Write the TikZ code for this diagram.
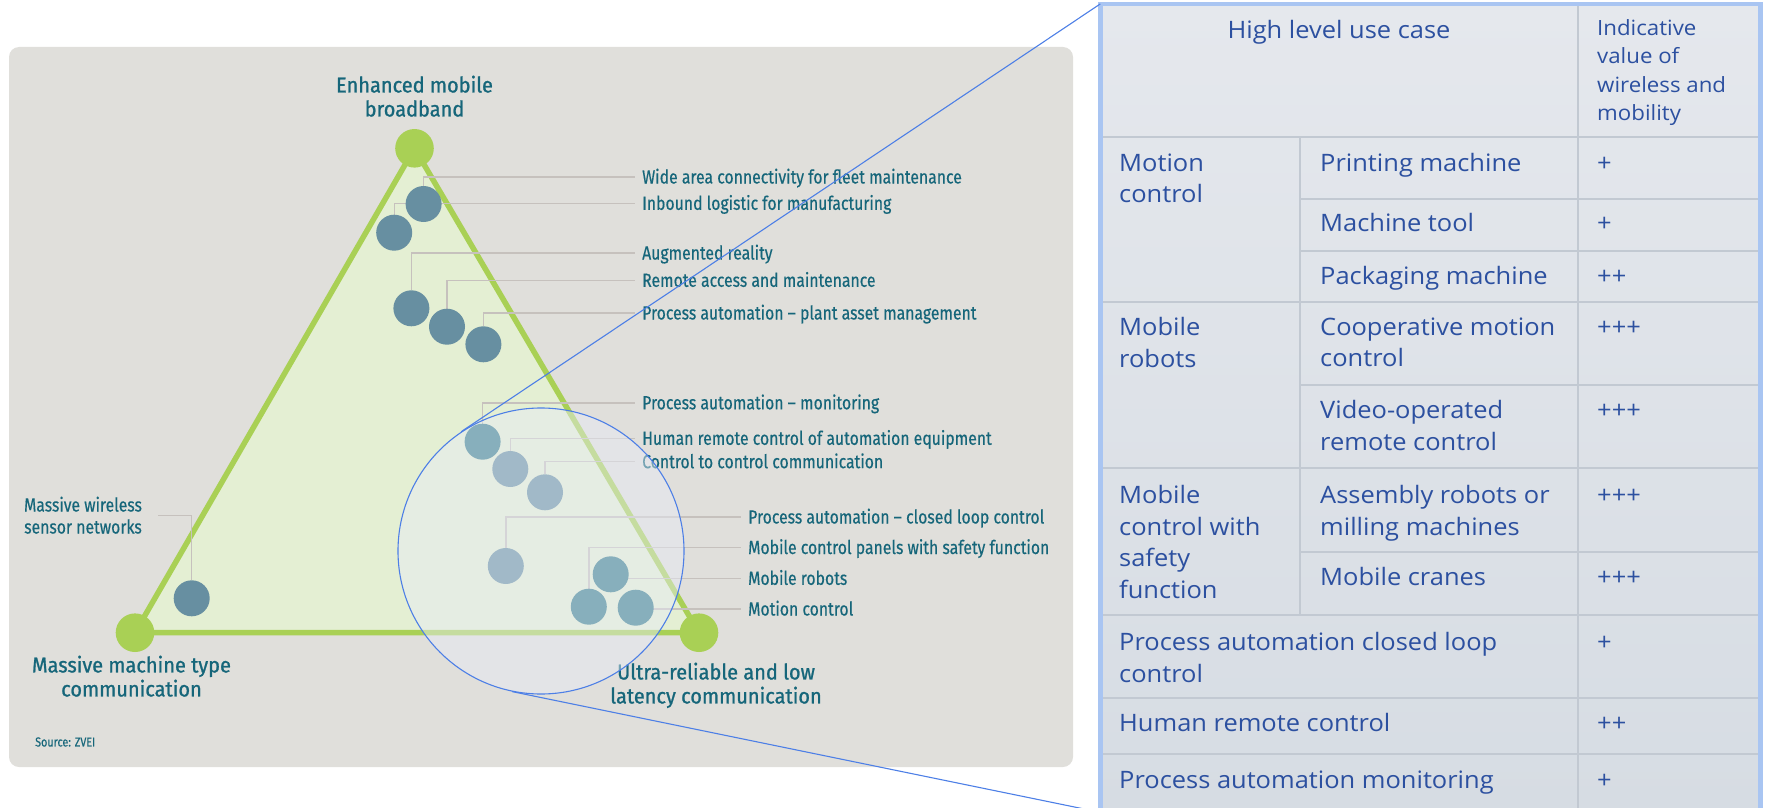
\documentclass[tikz,border=0pt]{standalone}
\usepackage{fontspec}
\usetikzlibrary{calc}
\newfontfamily\lblfont{Fira Sans}[FakeStretch=0.83,FakeBold=0.4]
\newfontfamily\headfont{Fira Sans}[FakeStretch=0.93,FakeBold=1]
\newfontfamily\tblfont{Open Sans}[FakeStretch=1.06]
\definecolor{panelgray}{HTML}{E0DFDB}
\definecolor{trifill}{HTML}{E4EFD3}
\definecolor{trigreen}{HTML}{A9D055}
\definecolor{ucdark}{HTML}{678FA1}
\definecolor{uclight}{HTML}{87AFBC}
\definecolor{lbltext}{HTML}{16667A}
\definecolor{leadgray}{HTML}{C6C1BD}
\definecolor{lensblue}{HTML}{4D7FE6}
\definecolor{lensfill}{HTML}{E7EBF7}
\definecolor{tbltop}{HTML}{E5E8ED}
\definecolor{tblbot}{HTML}{D6DCE3}
\definecolor{tblrule}{HTML}{C2C9D2}
\definecolor{tblborder}{HTML}{A9C5F2}
\definecolor{tbltext}{HTML}{2C50A0}
\pgfdeclarelayer{back}
\pgfdeclarelayer{front}
\pgfsetlayers{back,main,front}

\begin{document}
\begin{tikzpicture}[x=1pt,y=-1pt,
  vertex/.style={circle,fill=trigreen,minimum size=38.6pt,inner sep=0pt},
  uc/.style={circle,fill=ucdark,minimum size=36pt,inner sep=0pt},
  uclens/.style={uc,fill=uclight},
  leader/.style={draw=leadgray,line width=1.4pt},
  lbl/.style={anchor=west,inner xsep=7pt,inner ysep=0pt,text height=13pt,text depth=0pt,
    font=\lblfont\fontsize{19}{22}\selectfont,text=lbltext},
  head/.style={anchor=north,align=center,inner sep=0pt,
    font=\headfont\fontsize{21.5}{24}\selectfont,text=lbltext},
  lens/.style={circle,minimum size=286pt,inner sep=0pt,fill=lensfill,fill opacity=0.46,
    draw=lensblue,line width=1.1pt},
  zoomline/.style={draw=lensblue,line width=1.1pt},
  tblbox/.style={rectangle,inner sep=0pt,top color=tbltop,bottom color=tblbot},
  rule/.style={draw=tblrule,line width=2pt},
  cellm/.style={anchor=north west,align=left,inner sep=0pt,
    font=\tblfont\fontsize{24}{31.5}\selectfont,text=tbltext},
  cellone/.style={anchor=west,inner sep=0pt,text height=17pt,text depth=0pt,
    font=\tblfont\fontsize{24}{31.5}\selectfont,text=tbltext}]
  \useasboundingbox (0,0) rectangle (1765,808);
  % Left-hand side: the triangle of 5G service types
  \begin{pgfonlayer}{back}
    \fill[panelgray,rounded corners=10pt] (9,47) rectangle (1073,767);
    \coordinate (T) at (414.5,148.3);
    \coordinate (L) at (135,632.7);
    \coordinate (R) at (699,632.7);
    \filldraw[fill=trifill,draw=trigreen,line width=5.5pt,line join=round] (T) -- (L) -- (R) -- cycle;
  \end{pgfonlayer}
  \node[vertex] (embb)  at (T) {};
  \node[vertex] (mmtc)  at (L) {};
  \node[vertex] (urllc) at (R) {};
  \node[head] (lembb)  at (414.5,75.5) {Enhanced mobile\\broadband};
  \node[head] (lmmtc)  at (131.5,655.5) {Massive machine type\\communication};
  \node[head] (lurllc) at (716,662.5) {Ultra-reliable and low\\latency communication};

  \node[uc] (fleet)   at (423.6,204) {};
  \node[uc] (inbound) at (394.2,232.7) {};
  \node[uc] (augreal) at (411.4,308.3) {};
  \node[uc] (remote)  at (447,326.7) {};
  \node[uc] (asset)   at (483.4,344.3) {};
  \node[uc] (human)   at (510.3,469) {};
  \node[uc] (ctrl)    at (545,492.3) {};
  \node[uc] (closed)  at (505.8,566) {};
  \node[uc] (sensors) at (191.7,598.3) {};

  \node[lbl] (lfleet)   at (635,177) {Wide area connectivity for fleet maintenance};
  \node[lbl] (linbound) at (635,203.3) {Inbound logistic for manufacturing};
  \node[lbl] (laug)     at (635,253) {Augmented reality};
  \node[lbl] (lremote)  at (635,280.3) {Remote access and maintenance};
  \node[lbl] (lasset)   at (635,313) {Process automation – plant asset management};
  \node[lbl] (lmonit)   at (635,402.8) {Process automation – monitoring};
  \node[lbl] (lhuman)   at (635,438.3) {Human remote control of automation equipment};
  \node[lbl] (lctrl)    at (635,461.7) {Control to control communication};
  \node[lbl] (lclosed)  at (741,517) {Process automation – closed loop control};
  \node[lbl] (lpanels)  at (741,547.5) {Mobile control panels with safety function};
  \node[lbl] (lrobots)  at (741,578.3) {Mobile robots};
  \node[lbl] (lmotion)  at (741,609) {Motion control};
  \node[anchor=north,align=center,inner xsep=16pt,inner ysep=0pt,
    font=\lblfont\fontsize{19}{22}\selectfont,text=lbltext] (lsensors) at (83,496.5) {Massive wireless\\sensor networks};
  \node[anchor=west,inner sep=0pt,font=\lblfont\fontsize{13}{15}\selectfont,text=lbltext] (src) at (35,742) {Source: ZVEI};

  % magnifier over the URLLC corner
  \begin{pgfonlayer}{front}
    \node[lens] (lens) at (541,551) {};
    \node[uclens] (monit)  at (482.6,441.7) {};
    \node[uclens] (robots) at (610.7,574.3) {};
    \node[uclens] (panels) at (588.8,606.7) {};
    \node[uclens] (motion) at (635.7,607.7) {};
  \end{pgfonlayer}

  \begin{pgfonlayer}{back}
    \draw[leader] (fleet.north) |- (lfleet.west);
    \draw[leader] (inbound.north) |- (linbound.west);
    \draw[leader] (augreal.north) |- (laug.west);
    \draw[leader] (remote.north) |- (lremote.west);
    \draw[leader] (asset.north) |- (lasset.west);
    \draw[leader] (monit.north) |- (lmonit.west);
    \draw[leader] (human.north) |- (lhuman.west);
    \draw[leader] (ctrl.north) |- (lctrl.west);
    \draw[leader] (closed.north) |- (lclosed.west);
    \draw[leader] (panels.north) |- (lpanels.west);
    \draw[leader] (robots |- lrobots.west) -- (lrobots.west);
    \draw[leader] (motion |- lmotion.west) -- (lmotion.west);
    \draw[leader] (lsensors.east) -| (sensors.north);
  \end{pgfonlayer}

  % Right-hand side: the table
  \node[tblbox,anchor=north west,minimum width=659.7pt,minimum height=808pt] (tbl) at (1100.3,3.9) {};
  \draw[rule] (1102,137.3) -- (1758,137.3);
  \draw[rule] (1300,199) -- (1758,199);
  \draw[rule] (1300,250.7) -- (1758,250.7);
  \draw[rule] (1102,301.7) -- (1758,301.7);
  \draw[rule] (1300,385) -- (1758,385);
  \draw[rule] (1102,468.3) -- (1758,468.3);
  \draw[rule] (1300,551.7) -- (1758,551.7);
  \draw[rule] (1102,615) -- (1758,615);
  \draw[rule] (1102,698.3) -- (1758,698.3);
  \draw[rule] (1102,754.3) -- (1758,754.3);
  \draw[rule] (1300,137.3) -- (1300,615);
  \draw[rule] (1578,6) -- (1578,812);
  \draw[tblborder,line width=4.5pt] (tbl.north west) rectangle (tbl.south east);

  \node[cellone,anchor=center] (hluc) at (1339,30) {High level use case};
  \node[cellm,font=\tblfont\fontsize{21}{28.3}\selectfont] (ivwm) at (1597,19.5) {Indicative\\value of\\wireless and\\mobility};
  \node[cellm] (mc)  at (1119,153.5) {Motion\\control};
  \node[cellone] (pm)  at (1320,163) {Printing machine};
  \node[cellone] (pmv) at (1597,163) {+};
  \node[cellone] (mt)  at (1320,223) {Machine tool};
  \node[cellone] (mtv) at (1597,223) {+};
  \node[cellone] (pk)  at (1320,276) {Packaging machine};
  \node[cellone] (pkv) at (1597,276) {++};
  \node[cellm] (mr)  at (1119,317.5) {Mobile\\robots};
  \node[cellm] (cm)  at (1320,317.5) {Cooperative motion\\control};
  \node[cellone] (cmv) at (1597,327) {+++};
  \node[cellm] (vo)  at (1320,400.5) {Video-operated\\remote control};
  \node[cellone] (vov) at (1597,410) {+++};
  \node[cellm] (ms)  at (1119,485.5) {Mobile\\control with\\safety\\function};
  \node[cellm] (ar)  at (1320,485.5) {Assembly robots or\\milling machines};
  \node[cellone] (arv) at (1597,495) {+++};
  \node[cellone] (cr)  at (1320,576.7) {Mobile cranes};
  \node[cellone] (crv) at (1597,576.7) {+++};
  \node[cellm] (pacl) at (1119,632.2) {Process automation closed loop\\control};
  \node[cellone] (paclv) at (1597,641.7) {+};
  \node[cellone] (hrc)  at (1119,723) {Human remote control};
  \node[cellone] (hrcv) at (1597,723) {++};
  \node[cellone] (pam)  at (1119,780) {Process automation monitoring};
  \node[cellone] (pamv) at (1597,780) {+};

  % zoom lines from the magnifier to the table
  \begin{pgfonlayer}{front}
    \draw[zoomline] (tangent cs:node=lens,point={(tbl.north west)},solution=1) -- (tbl.north west);
    \draw[zoomline] (tangent cs:node=lens,point={(tbl.south west)},solution=2) -- (tbl.south west);
  \end{pgfonlayer}
\end{tikzpicture}
\end{document}
